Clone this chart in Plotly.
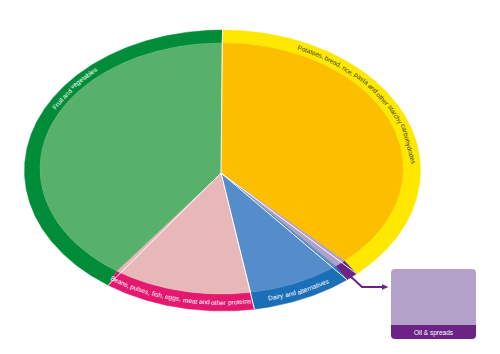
import numpy as np
import plotly.graph_objects as go

# ---------------- data ----------------
categories = [
    "Potatoes, bread, rice, pasta and other starchy carbohydrates",
    "Oil & spreads",
    "Dairy and alternatives",
    "Beans, pulses, fish, eggs, meat and other proteins",
    "Fruit and vegetables",
]
values = [37, 1, 8, 12, 39]  # % shares, clockwise from 12 o'clock
fill_colors = ["#FBBF00", "#B3A1C9", "#558DCA", "#E8B8B9", "#58B16A"]
ring_colors = ["#FFE800", "#6B2485", "#1B6FB7", "#E5186F", "#018C3A"]
label_colors = ["#3b3b2e", "#FFFFFF", "#FFFFFF", "#FFFFFF", "#FFFFFF"]

# ---------------- layout geometry (pixel space) ----------------
OUT = dict(cx=222.5, cy=170.5, rx=198.0, ry=140.5)
INN = dict(cx=221.5, cy=168.5, rx=181.5, ry=125.5)
MID = {k: (OUT[k] + INN[k]) / 2 for k in OUT}
APEX = (221.0, 173.0)
FONT = "Liberation Sans, Arial, sans-serif"
FS = 6.5
# label centre angle on the ring (deg clockwise from top) and reading direction
label_pos = {0: (52.9, "cw"), 2: (156.0, "ccw"), 3: (193.0, "ccw"), 4: (308.5, "cw")}

W = {' ': 278, ',': 278, '&': 667, 'a': 556, 'b': 556, 'c': 500, 'd': 556, 'e': 556,
     'f': 278, 'g': 556, 'h': 556, 'i': 222, 'j': 222, 'k': 500, 'l': 222, 'm': 833,
     'n': 556, 'o': 556, 'p': 556, 'q': 556, 'r': 333, 's': 500, 't': 278, 'u': 556,
     'v': 500, 'w': 722, 'x': 500, 'y': 500, 'z': 500, 'B': 667, 'D': 722, 'F': 611,
     'P': 667, 'O': 778}


def tw(s, fs=FS):
    return sum(W.get(c, 556) for c in s) * fs / 1000.0


def ell(e, th):
    t = np.radians(th)
    return e["cx"] + e["rx"] * np.sin(t), e["cy"] - e["ry"] * np.cos(t)


total = sum(values)
bounds = np.concatenate([[0], np.cumsum(values)]) / total * 360.0

fig = go.Figure()

for i, cat in enumerate(categories):
    t0, t1 = bounds[i], bounds[i + 1]
    th = np.linspace(t0, t1, max(8, int((t1 - t0) * 2)))
    ox, oy = ell(OUT, th)
    ix, iy = ell(INN, th)
    # outer ring segment
    rx_ = np.concatenate([ox, ix[::-1]])
    ry_ = np.concatenate([oy, iy[::-1]])
    fig.add_trace(go.Scatter(x=rx_, y=ry_, fill="toself", mode="lines",
                             fillcolor=ring_colors[i], line=dict(color=ring_colors[i], width=0.5),
                             hoverinfo="skip", showlegend=False, name=cat))
    # inner wedge
    wx = np.concatenate([[APEX[0]], ix, [APEX[0]]])
    wy = np.concatenate([[APEX[1]], iy, [APEX[1]]])
    fig.add_trace(go.Scatter(x=wx, y=wy, fill="toself", mode="lines",
                             fillcolor=fill_colors[i], line=dict(color=fill_colors[i], width=0.5),
                             hoverinfo="skip", showlegend=False, name=cat))

shapes = []
# white separators
for b in bounds[:-1]:
    ex, ey = ell(OUT, b)
    shapes.append(dict(type="line", xref="x", yref="y", x0=APEX[0], y0=APEX[1],
                       x1=float(ex), y1=float(ey), line=dict(color="white", width=1)))

annotations = []
# curved labels, placed word by word along the ring
for i, (thc, direction) in label_pos.items():
    text = categories[i]
    grid = np.linspace(thc - 90, thc + 90, 3601)
    gx, gy = ell(MID, grid)
    seg = np.hypot(np.diff(gx), np.diff(gy))
    s = np.concatenate([[0], np.cumsum(seg)])
    s = s - np.interp(thc, grid, s)
    words = text.split(" ")
    total_w = tw(text)
    pos = -total_w / 2
    sp = tw(" ")
    for w in words:
        ww = tw(w)
        sc = pos + ww / 2
        pos += ww + sp
        if direction == "ccw":
            sc = -sc
        th = float(np.interp(sc, s, grid))
        px, py = ell(MID, th)
        t = np.radians(th)
        ang = np.degrees(np.arctan2(MID["ry"] * np.sin(t), MID["rx"] * np.cos(t)))
        if direction == "ccw":
            ang += 180
        ang = (ang + 180) % 360 - 180
        annotations.append(dict(x=float(px), y=float(py), xref="x", yref="y", text=w,
                                showarrow=False, textangle=float(ang), xanchor="center",
                                yanchor="middle", borderpad=0,
                                font=dict(family=FONT, size=FS, color=label_colors[i])))

# Oil & spreads call-out
dark = ring_colors[1]
oil_mid = (bounds[1] + bounds[2]) / 2
sx, sy = ell(OUT, oil_mid)
shapes.append(dict(type="path", xref="x", yref="y",
                   path=f"M {sx - 2:.1f},{sy - 1:.1f} L 362,287 L 383,287",
                   line=dict(color=dark, width=2)))
shapes.append(dict(type="path", xref="x", yref="y", path="M 382,284.3 L 388.5,287 L 382,289.7 Z",
                   fillcolor=dark, line=dict(color=dark, width=0)))
x0, x1, y0, y1, r, yb = 391, 476, 269, 339, 4, 325
shapes.append(dict(type="path", xref="x", yref="y",
                   path=(f"M {x0 + r},{y0} L {x1 - r},{y0} Q {x1},{y0} {x1},{y0 + r} "
                         f"L {x1},{yb} L {x0},{yb} L {x0},{y0 + r} Q {x0},{y0} {x0 + r},{y0} Z"),
                   fillcolor=fill_colors[1], line=dict(width=0)))
shapes.append(dict(type="path", xref="x", yref="y",
                   path=(f"M {x0},{yb} L {x1},{yb} L {x1},{y1 - r} Q {x1},{y1} {x1 - r},{y1} "
                         f"L {x0 + r},{y1} Q {x0},{y1} {x0},{y1 - r} Z"),
                   fillcolor=dark, line=dict(width=0)))
annotations.append(dict(x=(x0 + x1) / 2, y=(yb + y1) / 2 + 0.5, xref="x", yref="y",
                        text=categories[1], showarrow=False, xanchor="center", yanchor="middle",
                        font=dict(family=FONT, size=6.5, color="white")))

fig.update_layout(
    width=500, height=354, margin=dict(l=0, r=0, t=0, b=0),
    paper_bgcolor="white", plot_bgcolor="white",
    xaxis=dict(range=[0, 500], visible=False, fixedrange=True),
    yaxis=dict(range=[354, 0], visible=False, fixedrange=True),
    shapes=shapes, annotations=annotations, showlegend=False,
)
fig.write_html("out.html")
